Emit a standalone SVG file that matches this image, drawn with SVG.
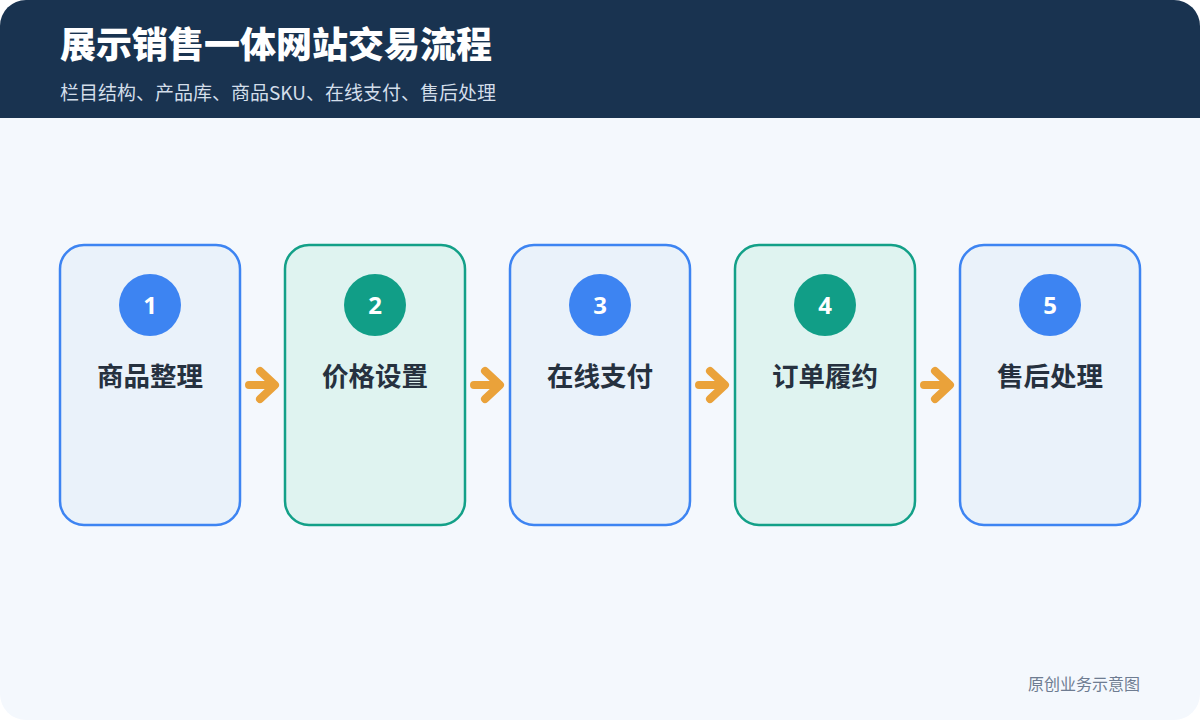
<svg xmlns="http://www.w3.org/2000/svg" width="1200" height="720" viewBox="0 0 1200 720">
  <defs>
    <clipPath id="frame"><rect x="0" y="0" width="1200" height="720" rx="26" ry="26"/></clipPath>
    <style>
      .title{font-family:"Noto Sans CJK SC","Noto Sans",sans-serif;font-weight:900;font-size:36px;fill:#ffffff}
      .sub{font-family:"Noto Sans CJK SC","Noto Sans",sans-serif;font-size:19px;fill:#D3DEEA}
      .card-blue{fill:#EAF2FA;stroke:#3D84F2;stroke-width:2.5}
      .card-green{fill:#DFF3F0;stroke:#13A088;stroke-width:2.5}
      .dot-blue{fill:#3D84F2}
      .dot-green{fill:#119E87}
      .num{font-family:"Noto Sans","Noto Sans CJK SC",sans-serif;font-weight:700;font-size:24px;fill:#ffffff;text-anchor:middle}
      .label{font-family:"Noto Sans CJK SC","Noto Sans",sans-serif;font-weight:700;font-size:26.5px;fill:#26313F;text-anchor:middle}
      .arrow{fill:none;stroke:#EAA23A;stroke-width:8;stroke-linecap:round;stroke-linejoin:round}
      .foot{font-family:"Noto Sans CJK SC","Noto Sans",sans-serif;font-size:16px;fill:#6E7C91;text-anchor:end}
    </style>
  </defs>
  <rect x="0" y="0" width="1200" height="720" fill="#ffffff"/>
  <g clip-path="url(#frame)">
    <rect x="0" y="0" width="1200" height="720" fill="#F4F8FD"/>
    <rect x="0" y="0" width="1200" height="118" fill="#193350"/>
  </g>
  <text class="title" x="60" y="58">展示销售一体网站交易流程</text>
  <text class="sub" x="60" y="100">栏目结构、产品库、商品SKU、在线支付、售后处理</text>

  <g id="connectors">
    <path class="arrow" d="M249 385 H274 M260 371 L275 385 L260 399"/>
    <path class="arrow" d="M474 385 H499 M485 371 L500 385 L485 399"/>
    <path class="arrow" d="M699 385 H724 M710 371 L725 385 L710 399"/>
    <path class="arrow" d="M924 385 H949 M935 371 L950 385 L935 399"/>
  </g>

  <g id="node1">
    <rect class="card-blue" x="60" y="245" width="180" height="280" rx="24"/>
    <circle class="dot-blue" cx="150" cy="305" r="31"/>
    <text class="num" x="150" y="314">1</text>
    <text class="label" x="150" y="386">商品整理</text>
  </g>
  <g id="node2">
    <rect class="card-green" x="285" y="245" width="180" height="280" rx="24"/>
    <circle class="dot-green" cx="375" cy="305" r="31"/>
    <text class="num" x="375" y="314">2</text>
    <text class="label" x="375" y="386">价格设置</text>
  </g>
  <g id="node3">
    <rect class="card-blue" x="510" y="245" width="180" height="280" rx="24"/>
    <circle class="dot-blue" cx="600" cy="305" r="31"/>
    <text class="num" x="600" y="314">3</text>
    <text class="label" x="600" y="386">在线支付</text>
  </g>
  <g id="node4">
    <rect class="card-green" x="735" y="245" width="180" height="280" rx="24"/>
    <circle class="dot-green" cx="825" cy="305" r="31"/>
    <text class="num" x="825" y="314">4</text>
    <text class="label" x="825" y="386">订单履约</text>
  </g>
  <g id="node5">
    <rect class="card-blue" x="960" y="245" width="180" height="280" rx="24"/>
    <circle class="dot-blue" cx="1050" cy="305" r="31"/>
    <text class="num" x="1050" y="314">5</text>
    <text class="label" x="1050" y="386">售后处理</text>
  </g>

  <text class="foot" x="1140" y="690">原创业务示意图</text>
</svg>
